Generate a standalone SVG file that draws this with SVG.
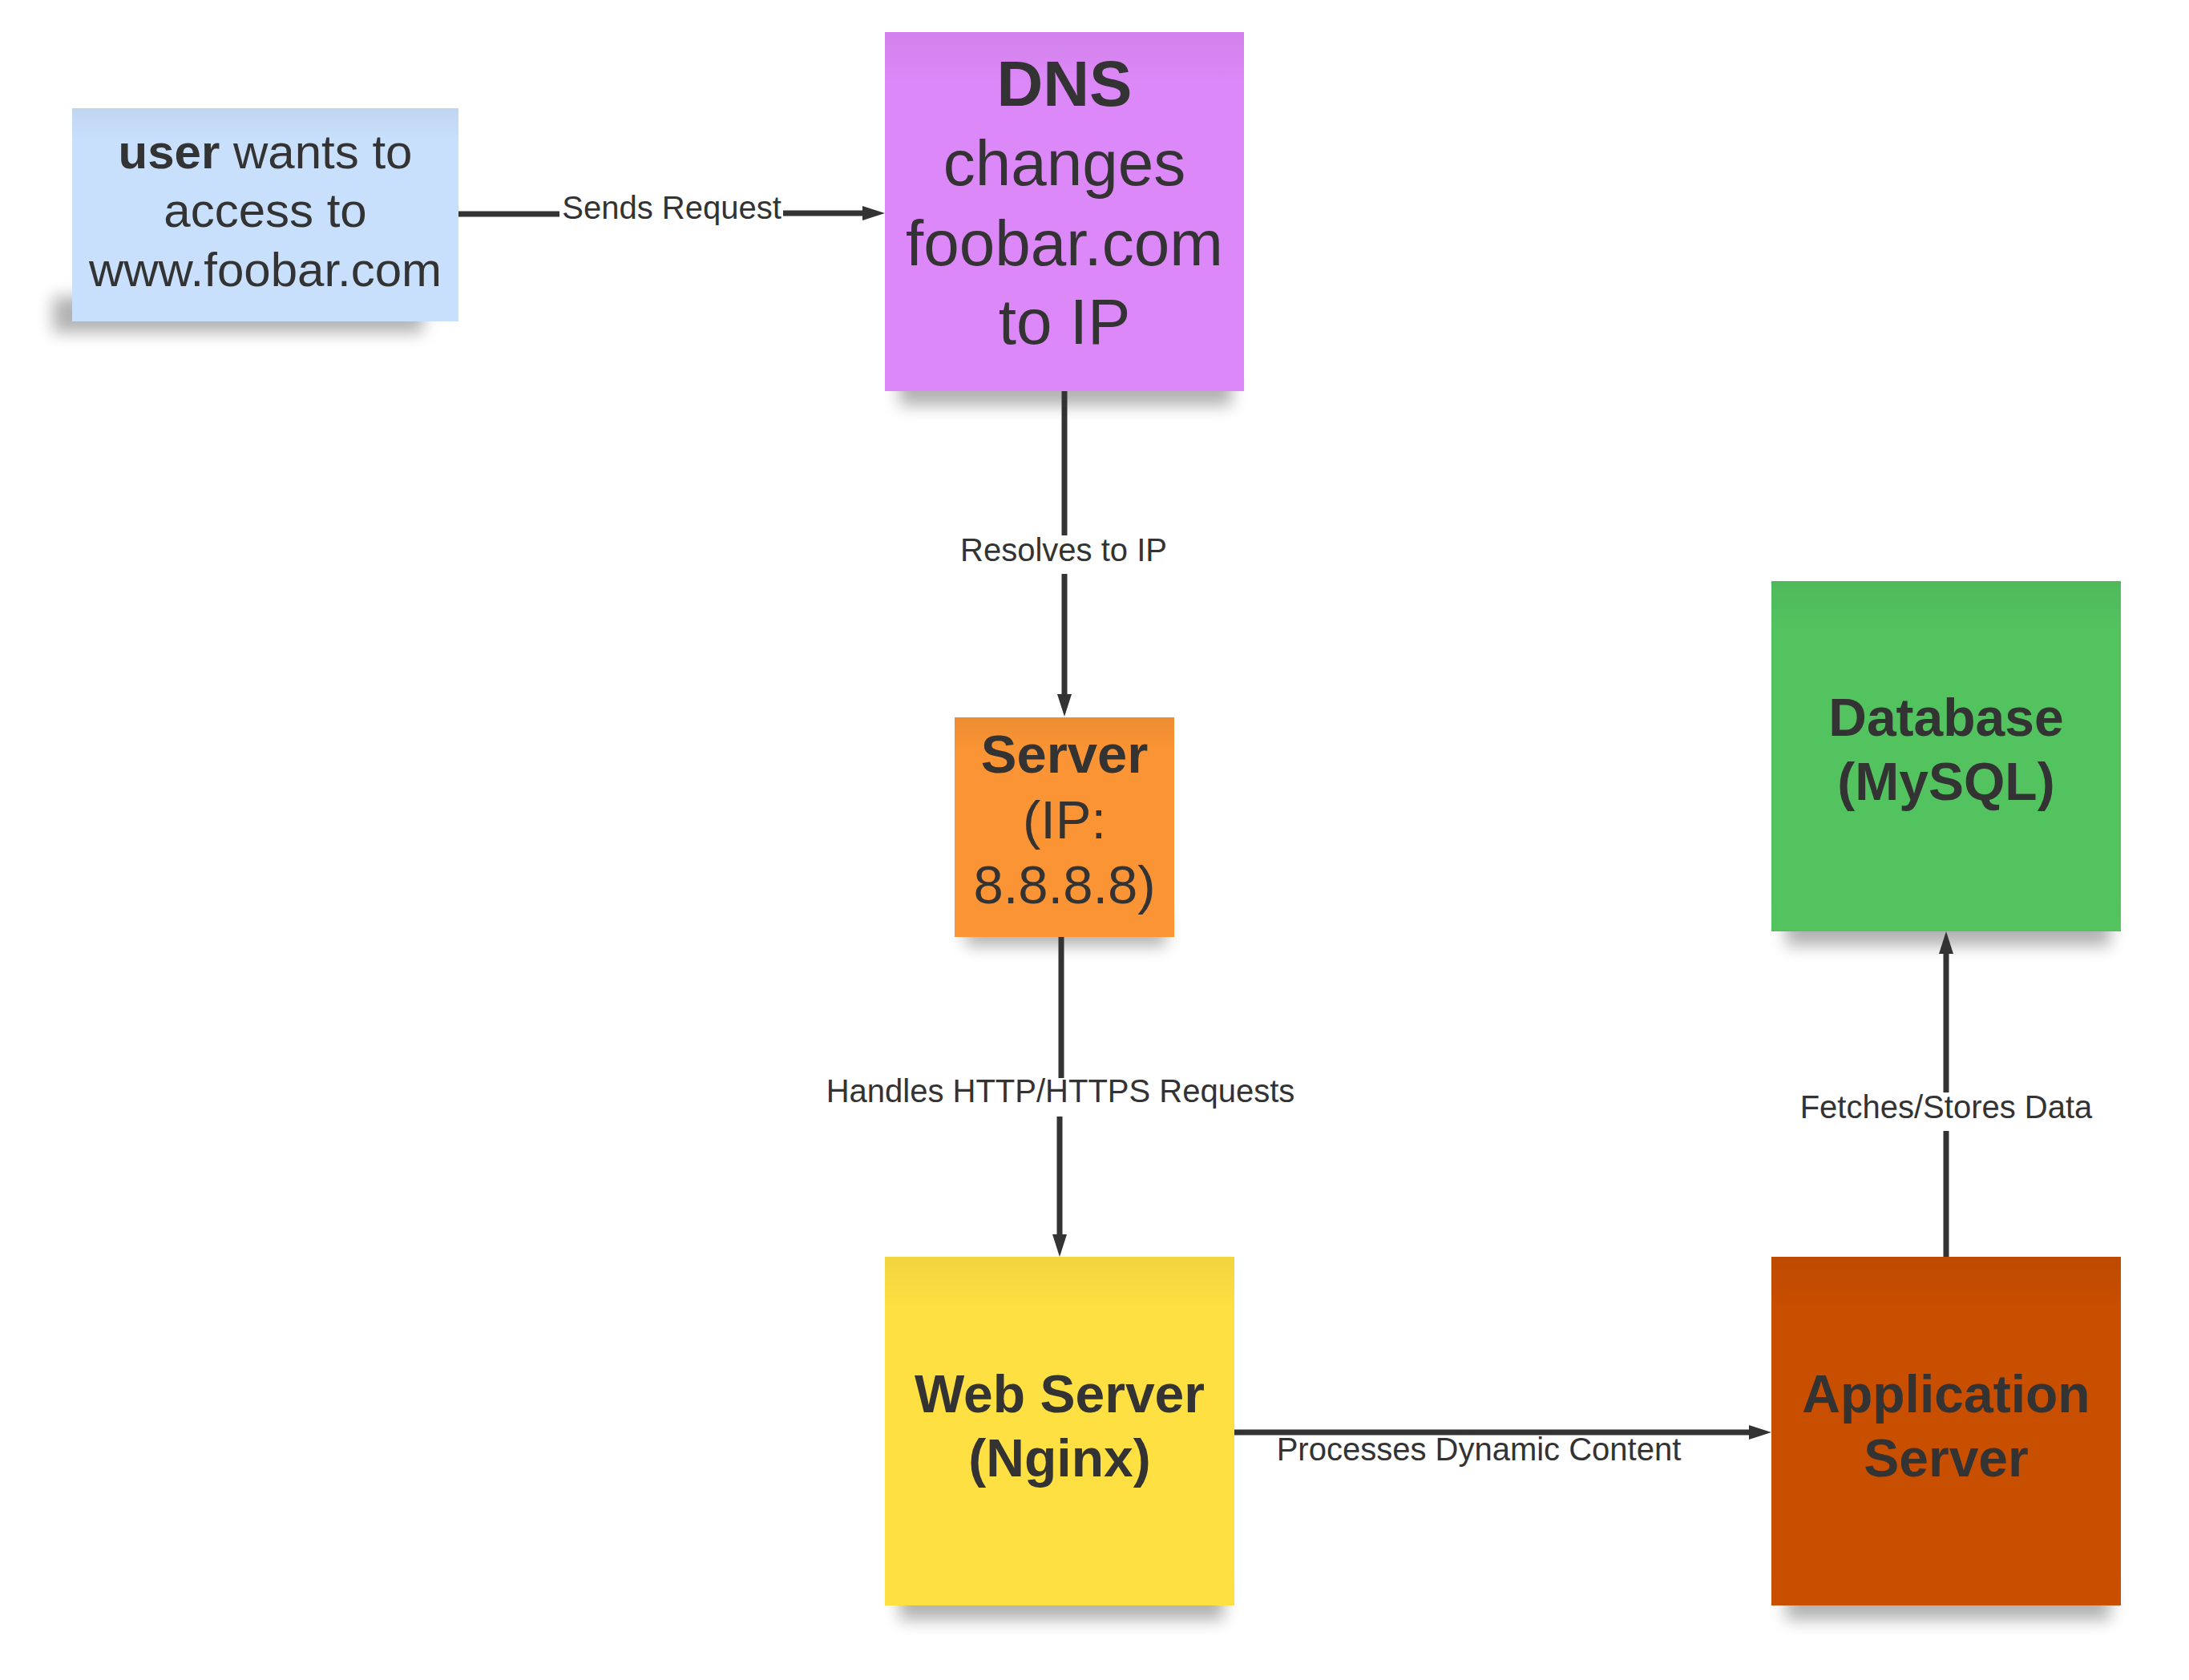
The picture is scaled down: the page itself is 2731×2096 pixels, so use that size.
<svg xmlns="http://www.w3.org/2000/svg" width="2731" height="2096" viewBox="0 0 2731 2096">
<style>
  .t { font-family: "Liberation Sans", Arial, sans-serif; fill: #333333; text-anchor: middle; }
  .b { font-weight: bold; }
  .lbl { font-family: "Liberation Sans", Arial, sans-serif; fill: #333333; text-anchor: middle; font-size: 40px; }
  .edge { fill: none; stroke: #333333; stroke-width: 7; }
  .shadow { fill: #000000; opacity: 0.3; filter: url(#blur); }
</style>
<defs>
  <filter id="blur" x="-20%" y="-100%" width="140%" height="300%">
    <feGaussianBlur stdDeviation="10"/>
  </filter>
  <linearGradient id="fold" x1="0" y1="0" x2="0" y2="1">
    <stop offset="0" stop-color="#000" stop-opacity="0.05"/>
    <stop offset="0.15" stop-color="#000" stop-opacity="0"/>
    <stop offset="1" stop-color="#000" stop-opacity="0"/>
  </linearGradient>
  <marker id="arrow" markerUnits="userSpaceOnUse" markerWidth="28" markerHeight="18" viewBox="0 0 28 18" refX="14" refY="9" orient="auto">
    <path d="M0,0 L28,9 L0,18 Z" fill="#333333"/>
  </marker>
</defs>
<rect width="2731" height="2096" fill="#ffffff"/>

<g id="user">
  <rect class="shadow" x="66" y="370" width="462" height="45"/>
  <rect x="90" y="135" width="482" height="266" fill="#C9E0FC"/>
  <rect x="90" y="135" width="482" height="266" fill="url(#fold)"/>
  <text class="t" font-size="60" x="331" y="210"><tspan class="b">user</tspan> wants to</text>
  <text class="t" font-size="60" x="331" y="283">access to</text>
  <text class="t" font-size="60" x="331" y="357">www.foobar.com</text>
</g>

<g id="dns">
  <rect class="shadow" x="1122" y="456" width="415" height="50"/>
  <rect x="1104" y="40" width="448" height="448" fill="#DD88F8"/>
  <rect x="1104" y="40" width="448" height="448" fill="url(#fold)"/>
  <text class="t b" font-size="80" x="1328" y="132">DNS</text>
  <text class="t" font-size="80" x="1328" y="231">changes</text>
  <text class="t" font-size="80" x="1328" y="331">foobar.com</text>
  <text class="t" font-size="80" x="1328" y="429">to IP</text>
</g>

<g id="server">
  <rect class="shadow" x="1205" y="1142" width="250" height="38"/>
  <rect x="1191" y="895" width="274" height="274" fill="#FA9434"/>
  <rect x="1191" y="895" width="274" height="274" fill="url(#fold)"/>
  <text class="t b" font-size="67" x="1328" y="964">Server</text>
  <text class="t" font-size="67" x="1328" y="1046">(IP:</text>
  <text class="t" font-size="67" x="1328" y="1127">8.8.8.8)</text>
</g>

<g id="database">
  <rect class="shadow" x="2228" y="1130" width="405" height="50"/>
  <rect x="2210" y="725" width="436" height="437" fill="#53C35F"/>
  <rect x="2210" y="725" width="436" height="437" fill="url(#fold)"/>
  <text class="t b" font-size="66" x="2428" y="918">Database</text>
  <text class="t b" font-size="66" x="2428" y="998">(MySQL)</text>
</g>

<g id="webserver">
  <rect class="shadow" x="1122" y="1971" width="405" height="50"/>
  <rect x="1104" y="1568" width="436" height="435" fill="#FEE042"/>
  <rect x="1104" y="1568" width="436" height="435" fill="url(#fold)"/>
  <text class="t b" font-size="66" x="1322" y="1762">Web Server</text>
  <text class="t b" font-size="66" x="1322" y="1842">(Nginx)</text>
</g>

<g id="appserver">
  <rect class="shadow" x="2228" y="1971" width="405" height="50"/>
  <rect x="2210" y="1568" width="436" height="435" fill="#C84E00"/>
  <rect x="2210" y="1568" width="436" height="435" fill="url(#fold)"/>
  <text class="t b" font-size="66" x="2428" y="1762">Application</text>
  <text class="t b" font-size="66" x="2428" y="1842">Server</text>
</g>

<g id="connectors">
  <path class="edge" d="M572,267 H698 M977,266 H1090" marker-end="url(#arrow)"/>
  <text class="lbl" x="838" y="273">Sends Request</text>

  <path class="edge" d="M1328,488 V668 M1328,716 V880" marker-end="url(#arrow)"/>
  <text class="lbl" x="1327" y="700">Resolves to IP</text>

  <path class="edge" d="M1324,1169 V1345 M1322,1393 V1554" marker-end="url(#arrow)"/>
  <text class="lbl" x="1323" y="1375">Handles HTTP/HTTPS Requests</text>

  <path class="edge" d="M1540,1787 H2196" marker-end="url(#arrow)"/>
  <text class="lbl" x="1845" y="1822">Processes Dynamic Content</text>

  <path class="edge" d="M2428,1568 V1411 M2428,1363 V1176" marker-end="url(#arrow)"/>
  <text class="lbl" x="2428" y="1395">Fetches/Stores Data</text>
</g>
</svg>
